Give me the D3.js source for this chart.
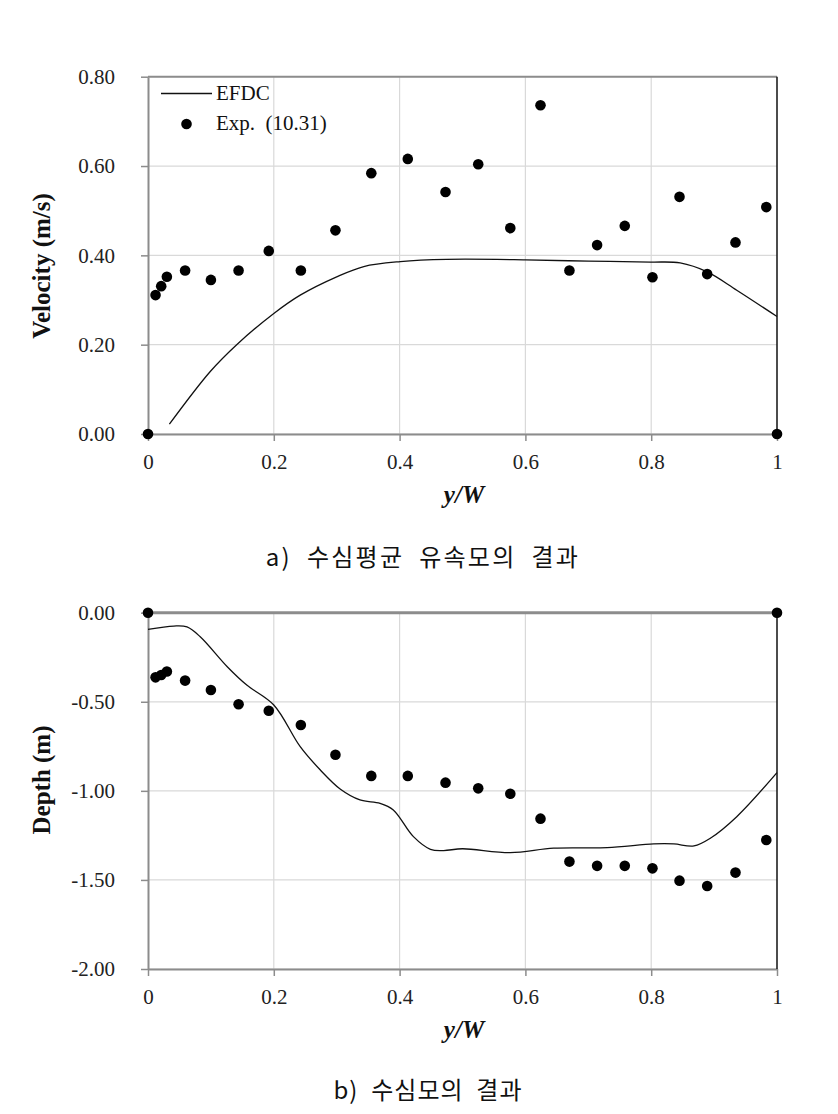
<!DOCTYPE html>
<html><head><meta charset="utf-8">
<script src="https://cdn.jsdelivr.net/npm/d3@7"></script>
<style>body{margin:0;background:#fff}</style>
</head><body>
<script>
// ---- data ----
const expX = [0,0.012,0.021,0.030,0.059,0.100,0.144,0.192,0.243,0.298,0.355,0.413,0.473,0.525,0.576,0.624,0.670,0.714,0.758,0.802,0.845,0.889,0.934,0.983,1.0];
const expVelocity = [0,0.311,0.331,0.352,0.366,0.345,0.366,0.410,0.366,0.456,0.584,0.616,0.542,0.604,0.461,0.736,0.366,0.423,0.466,0.351,0.531,0.358,0.429,0.508,0];
const expDepth = [0,-0.363,-0.350,-0.330,-0.381,-0.434,-0.514,-0.550,-0.630,-0.797,-0.916,-0.916,-0.954,-0.986,-1.016,-1.156,-1.397,-1.421,-1.421,-1.435,-1.504,-1.534,-1.459,-1.276,0];
const efdcVelX = [0.034,0.099,0.141,0.200,0.242,0.300,0.343,0.401,0.475,0.600,0.700,0.799,0.846,0.889,0.936,1.0];
const efdcVel = [0.022,0.140,0.200,0.270,0.311,0.352,0.375,0.386,0.391,0.390,0.387,0.385,0.383,0.363,0.322,0.263];
const efdcDepX = [0,0.041,0.062,0.083,0.126,0.157,0.200,0.242,0.274,0.306,0.337,0.369,0.390,0.422,0.449,0.470,0.500,0.576,0.645,0.730,0.804,0.836,0.868,0.894,0.936,1.0];
const efdcDep = [-0.093,-0.075,-0.080,-0.135,-0.303,-0.406,-0.518,-0.752,-0.883,-0.991,-1.051,-1.070,-1.107,-1.257,-1.328,-1.335,-1.325,-1.347,-1.322,-1.319,-1.298,-1.298,-1.309,-1.266,-1.145,-0.898];
const xTicks = [0,0.2,0.4,0.6,0.8,1];
const velTicks = [0,0.2,0.4,0.6,0.8];
const depTicks = [-2,-1.5,-1,-0.5,0];

const W = 838, H = 1114;
const svg = d3.select("body").append("svg").attr("width", W).attr("height", H);
const serif = "'Liberation Serif','Times New Roman',serif";
const fmt2 = d => d3.format(".2f")(d).replace("\u2212", "-");

function panel(cfg) {
  const x = d3.scaleLinear().domain([0,1]).range([148,777]);
  const y = d3.scaleLinear().domain(cfg.domain).range([cfg.bottom, cfg.top]);
  const g = svg.append("g");
  // gridlines
  g.selectAll(".vg").data(xTicks.slice(1,-1)).join("line")
    .attr("x1", d=>x(d)).attr("x2", d=>x(d)).attr("y1", cfg.top).attr("y2", cfg.bottom)
    .attr("stroke", "#d9d9d9").attr("stroke-width", 1.2);
  g.selectAll(".hg").data(cfg.ticks).join("line")
    .attr("x1", 148).attr("x2", 777).attr("y1", d=>y(d)).attr("y2", d=>y(d))
    .attr("stroke", "#d9d9d9").attr("stroke-width", 1.2);
  // axes
  const xa = g.append("g").attr("transform", `translate(0,${cfg.bottom})`)
    .call(d3.axisBottom(x).tickValues(xTicks).tickFormat(d=>String(d)).tickSizeOuter(0).tickSizeInner(7).tickPadding(13));
  const ya = g.append("g").attr("transform", `translate(148,0)`)
    .call(d3.axisLeft(y).tickValues(cfg.ticks).tickFormat(fmt2).tickSizeOuter(0).tickSizeInner(7).tickPadding(26));
  [xa, ya].forEach(a => {
    a.attr("font-family", null).attr("font-size", null);
    a.select(".domain").attr("stroke", "#8c8c8c").attr("stroke-width", 2);
    a.selectAll(".tick line").attr("stroke", "#8c8c8c").attr("stroke-width", 1.5);
    a.selectAll(".tick text").style("font-family", serif).style("font-size", "21px").attr("fill", "#222");
  });
  // top border (gray) and right border (black)
  g.append("line").attr("x1", 148).attr("x2", 777).attr("y1", cfg.top).attr("y2", cfg.top)
    .attr("stroke", "#8c8c8c").attr("stroke-width", cfg.topW);
  g.append("line").attr("x1", 777).attr("x2", 777).attr("y1", cfg.top).attr("y2", cfg.bottom)
    .attr("stroke", "#111").attr("stroke-width", 1.5);
  // line
  const pts = cfg.lx.map((d,i)=>[d, cfg.ly[i]]);
  g.append("path").datum(pts)
    .attr("d", d3.line().x(d=>x(d[0])).y(d=>y(d[1])).curve(d3.curveCatmullRom.alpha(0.5)))
    .attr("fill", "none").attr("stroke", "#111").attr("stroke-width", 1.3);
  // points
  g.selectAll(".pt").data(expX.map((d,i)=>[d, cfg.py[i]])).join("circle")
    .attr("cx", d=>x(d[0])).attr("cy", d=>y(d[1])).attr("r", 5.3).attr("fill", "#000");
  // axis titles
  g.append("text").attr("transform", `translate(50,${cfg.ytitleY}) rotate(-90)`)
    .attr("text-anchor", "middle").style("font-family", serif).attr("font-weight", "bold")
    .style("font-size", "25px").attr("fill", "#111").text(cfg.ytitle);
  g.append("text").attr("x", 464).attr("y", cfg.bottom + 69).attr("text-anchor", "middle")
    .style("font-family", serif).attr("font-weight", "bold").attr("font-style", "italic")
    .style("font-size", "25px").attr("fill", "#111").text("y/W");
  // caption
  svg.append("text").attr("x", cfg.capX).attr("y", cfg.capY).attr("text-anchor", "middle")
    .style("font-family", "'Noto Sans CJK KR', sans-serif").style("font-size", "24px")
    .style("letter-spacing", cfg.capLS).attr("fill", "#111")
    .style("white-space", "pre").text(cfg.caption);
  return {x, y, g};
}

panel({domain:[0,0.8], top:76.7, bottom:434, ticks:velTicks, topW:2,
  lx: efdcVelX, ly: efdcVel, py: expVelocity, ytitle: "Velocity (m/s)", ytitleY: 266,
  caption: "a)  수심평균  유속모의  결과", capX: 423, capY: 566, capLS: "2.2px"});
panel({domain:[-2,0], top:612.7, bottom:969, ticks:depTicks, topW:3,
  lx: efdcDepX, ly: efdcDep, py: expDepth, ytitle: "Depth (m)", ytitleY: 780,
  caption: "b)  수심모의  결과", capX: 428, capY: 1099, capLS: "1px"});

// legend (top panel)
const lg = svg.append("g");
lg.append("line").attr("x1", 161).attr("x2", 212).attr("y1", 93.5).attr("y2", 93.5)
  .attr("stroke", "#111").attr("stroke-width", 1.3);
lg.append("text").attr("x", 216).attr("y", 100).style("font-family", serif).style("font-size", "21px")
  .attr("fill", "#111").text("EFDC");
lg.append("circle").attr("cx", 186.5).attr("cy", 124).attr("r", 5.3).attr("fill", "#000");
lg.append("text").attr("x", 216).attr("y", 130).style("font-family", serif).style("font-size", "21px")
  .attr("fill", "#111").style("white-space", "pre").text("Exp.  (10.31)");
</script>
</body></html>
